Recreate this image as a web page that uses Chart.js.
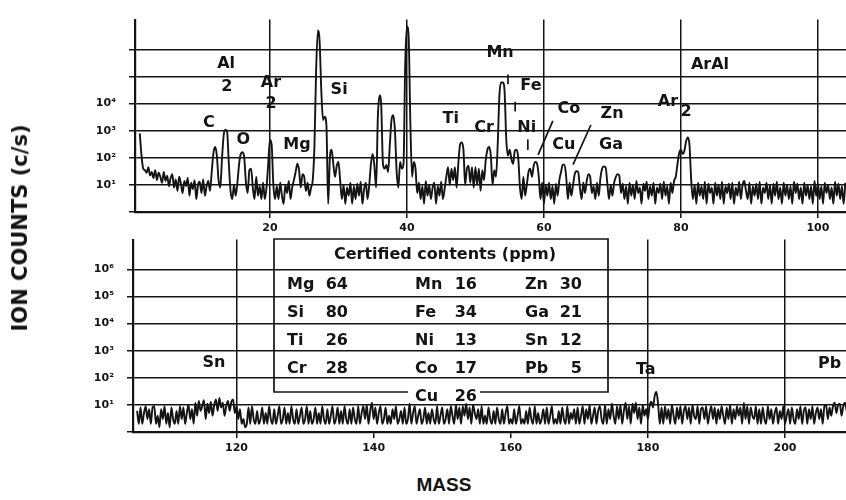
<!DOCTYPE html>
<html><head><meta charset="utf-8">
<script src="https://cdn.jsdelivr.net/npm/chart.js@4.4.0/dist/chart.umd.min.js"></script>
<style>
body{margin:0;background:#fff;width:846px;height:500px;position:relative;overflow:hidden}
canvas{position:absolute;left:0}
#cTop{top:0}#cBot{top:220px}
#ytitle{position:absolute;left:20px;top:228px;transform:translate(-50%,-50%) rotate(-90deg);font:bold 21px "DejaVu Sans",sans-serif;white-space:nowrap;color:#141414}
#xtitle{position:absolute;left:444px;top:485px;transform:translate(-50%,-50%);font:bold 19px "Liberation Sans",Arial,sans-serif;color:#141414}
</style></head><body>
<canvas id="cTop" width="846" height="240"></canvas>
<canvas id="cBot" width="846" height="240"></canvas>
<div id="ytitle">ION COUNTS (c/s)</div>
<div id="xtitle">MASS</div>
<script>
const INK='#141414';
const MASS_STEP=0.25;

// upper trace, mass 1 .. 104, one value every 0.25 u
const topStart=1;
const topCounts=[
 800,120,40,35, 28,45,22,30, 18,35,15,28, 20,12,30,14, 22,9,18,25,            // 1-5
 8,16,6,20, 11,5,14,9, 18,4,12,7, 15,3,10,13, 5,16,4,9,                        // 6-10
 14,6,30,150, 250,120,15,8, 90,700,1100,900, 60,6,3,10, 4,12,60,140,           // 11-15
 160,100,12,5, 35,40,8,3, 20,4,9,3, 12,3,8,60, 470,300,10,3,                   // 16-20
 9,3,12,4, 2,10,5,14, 3,8,15,30, 60,35,8,25, 20,6,12,4,                        // 21-25
 8,15,300,2e5, 5e6,2e6,3e4,2500, 3300,1500,2,100, 200,60,20,50, 70,15,3,10,    // 26-30
 2,8,4,12, 2,9,3,11, 4,13,2,7, 12,3,10,60, 140,50,8,3000,                      // 31-35
 2e4,8000,60,40, 55,30,300,2500, 3700,1000,30,8, 70,40,60,3e5, 7e6,3e6,2000,20,// 36-40
 70,40,5,12, 3,9,2,14, 4,10,3,8, 12,2,9,4, 13,3,7,20,                          // 41-45
 45,10,40,15, 45,8,60,300, 370,200,10,40, 50,12,45,8, 45,10,40,6,              // 46-50
 35,15,80,200, 250,120,10,35, 20,300,2e4,6e4, 6e4,3e4,500,120, 200,90,60,180,  // 51-55
 200,100,8,3, 20,4,10,30, 40,20,50,70, 60,20,3,12, 2,10,4,12,                  // 56-60
 3,9,2,11, 4,15,30,56, 56,20,3,12, 4,10,25,32, 30,8,3,12,                      // 61-65
 5,14,25,20, 5,9,3,12, 4,18,40,48, 45,12,3,10, 4,12,20,25,                     // 66-70
 22,5,11,3, 9,2,12,4, 10,3,14,5, 8,2,11,6, 13,3,9,4,                           // 71-75
 12,2,8,5, 11,3,13,4, 9,2,12,5, 14,20,60,150, 200,140,180,400,                 // 76-80
 560,300,15,3, 10,2,12,4, 9,3,13,2, 11,5,8,2, 12,4,10,3,                       // 81-85
 13,2,9,5, 11,3,12,2, 8,4,13,3, 10,14,6,3, 12,2,9,4,                           // 86-90
 11,3,13,2, 8,5,12,3, 10,2,11,4, 13,3,8,2, 12,4,10,3,                          // 91-95
 9,2,13,5, 11,3,8,2, 12,4,10,3, 9,2,14,4, 11,3,9,2,                            // 96-100
 12,5,10,3, 8,2,13,4, 11,3,9,2, 12                                             // 101-104
];

// lower trace, mass 105.5 .. 209
const botStart=105.5;
const botCounts=[
 6,2,                                                                          // 105.5
 8,2,5,9, 3,7,2,8, 9,2,4,1.5, 7,3,9,2, 5,1.5,8,3,                              // 106-110
 2,6,2,9, 3,8,2,5, 10,3,7,2, 12,4,14,6, 9,15,3,11,                             // 111-115
 5,13,4,10, 16,6,18,8, 12,4,9,14, 6,13,16,5, 9,3,7,2,                          // 116-120
 3,1.5,2,8, 2,9,3,2, 6,2,3,8, 2,5,2,9, 3,2,7,2,                                // 121-125
 4,9,2,3, 8,2,5,2, 9,3,2,7, 2,4,8,2, 3,9,2,6,                                  // 126-130
 2,3,8,2, 5,2,9,3, 2,7,2,4, 9,2,3,8, 2,6,2,9,                                  // 131-135
 3,2,7,2, 8,3,2,9, 2,5,9,3, 10,2,6,12, 3,8,2,5,                                // 136-140
 9,2,3,8, 2,4,2,7, 3,9,2,3, 6,2,8,2, 3,11,2,5,                                 // 141-145
 9,2,4,7, 2,3,8,2, 5,2,7,3, 2,9,2,4, 8,2,3,7,                                  // 146-150
 2,9,4,2, 10,3,8,2, 9,4,11,3, 8,2,10,5, 3,7,2,9,                               // 151-155
 2,4,2,8, 3,2,6,2, 8,3,2,7, 2,5,9,2, 3,2,7,2,                                  // 156-160
 4,9,2,3, 2,6,2,8, 3,2,9,2, 5,2,3,7, 2,8,2,4,                                  // 161-165
 9,2,3,2, 6,2,8,3, 2,9,2,5, 3,7,2,8, 2,4,9,2,                                  // 166-170
 7,3,10,2, 4,8,2,6, 9,3,2,10, 2,7,3,11, 4,2,9,3,                               // 171-175
 10,2,6,12, 3,9,2,11, 5,12,3,8, 2,10,4,7, 3,9,13,8,                            // 176-180
 22,30,10,2, 8,2,9,3, 7,2,10,4, 2,8,3,9, 2,6,9,3,                              // 181-185
 8,2,10,4, 3,9,2,7, 8,3,9,2, 5,9,3,8, 2,7,3,9,                                 // 186-190
 4,2,8,3, 10,2,7,3, 9,4,8,2, 12,3,9,2, 8,4,3,9,                                // 191-195
 2,7,2,8, 3,2,9,3, 7,2,5,8, 2,6,3,9, 2,4,7,2,                                  // 196-200
 8,3,2,7, 3,9,2,6, 8,2,7,3, 9,2,5,8, 3,7,2,9,                                  // 201-205
 10,3,8,4, 9,12,5,10, 11,4,9,12, 6                                             // 206-209
];

const topTicks=[20,40,60,80,100];
const botTicks=[120,140,160,180,200];
const botGridTicks=[120,180,200];
const decades=[1,10,100,1e3,1e4,1e5,1e6];
const topDecadeLabels=['','10¹','10²','10³','10⁴','',''];
const botDecadeLabels=['','10¹','10²','10³','10⁴','10⁵','10⁶'];

// peak labels: text, mass, log10(counts)
const topNoteText=['Al','2','Ar','2','Si','C','O','Mg','Mn','Fe','Ti','Cr','Ni','Co','Cu','Zn','Ga','ArAl','Ar','2'];
const topNoteMass=[13.6,13.7,20.15,20.15,30.1,11.1,16.1,23.95,53.6,58.1,46.4,51.25,57.5,63.65,62.9,69.95,69.8,84.25,78.1,80.75];
const topNoteExp=[5.46,4.61,4.75,4.0,4.5,3.29,2.68,2.46,5.86,4.64,3.43,3.11,3.11,3.79,2.46,3.61,2.46,5.43,4.07,3.71];
const topStrokes=[[54.75,4.71,54.75,5.07],[55.8,3.71,55.8,4.07],[57.65,2.29,57.65,2.68],[61.3,3.36,59.15,2.11],[66.85,3.21,64.25,1.75]];
const botNoteText=['Sn','Ta','Pb'];
const botNoteMass=[116.7,179.7,206.5];
const botNoteExp=[2.57,2.29,2.5];

const certElements=['Mg','Si','Ti','Cr','Mn','Fe','Ni','Co','Zn','Ga','Sn','Pb','Cu'];
const certPpm=[64,80,26,28,16,34,13,17,30,21,12,5,26];

function trace(start,counts){return counts.map((c,i)=>({x:start+i*MASS_STEP,y:c}));}

const LABEL_FONT='bold 16px "DejaVu Sans"';

const topNotes={id:'topNotes',afterDatasetsDraw(ch){
  const {ctx,scales:{x,y}}=ch;
  ctx.save();ctx.font=LABEL_FONT;ctx.fillStyle=INK;ctx.textAlign='center';ctx.textBaseline='middle';
  topNoteText.forEach((t,i)=>ctx.fillText(t,x.getPixelForValue(topNoteMass[i]),y.getPixelForValue(10**topNoteExp[i])));
  ctx.strokeStyle=INK;ctx.lineWidth=1.7;
  topStrokes.forEach(s=>{ctx.beginPath();ctx.moveTo(x.getPixelForValue(s[0]),y.getPixelForValue(10**s[1]));ctx.lineTo(x.getPixelForValue(s[2]),y.getPixelForValue(10**s[3]));ctx.stroke();});
  ctx.restore();
}};

const botNotes={id:'botNotes',afterDatasetsDraw(ch){
  const {ctx,scales:{x,y}}=ch;
  ctx.save();ctx.font=LABEL_FONT;ctx.fillStyle=INK;ctx.textAlign='center';ctx.textBaseline='middle';
  botNoteText.forEach((t,i)=>ctx.fillText(t,x.getPixelForValue(botNoteMass[i]),y.getPixelForValue(10**botNoteExp[i])));
  // certified contents box (canvas starts at page y=220)
  const L=274,R=608,T=19,B=172;
  ctx.strokeStyle=INK;ctx.lineWidth=1.7;
  ctx.beginPath();ctx.moveTo(408,B);ctx.lineTo(L,B);ctx.lineTo(L,T);ctx.lineTo(R,T);ctx.lineTo(R,B);ctx.lineTo(480,B);ctx.stroke();
  ctx.textBaseline='alphabetic';
  ctx.fillText('Certified contents (ppm)',445,39);
  const colL=[287,415,525],colR=[348,477,582],rowB=[69,97,125,153,181];
  certElements.forEach((el,i)=>{
    const col=i<12?Math.floor(i/4):1,row=i<12?i%4:4;
    ctx.textAlign='left';ctx.fillText(el,colL[col],rowB[row]);
    ctx.textAlign='right';ctx.fillText(String(certPpm[i]),colR[col],rowB[row]);
  });
  ctx.restore();
}};

function makePanel(id,cfg){
  return new Chart(document.getElementById(id),{
    type:'line',
    data:{datasets:[{data:trace(cfg.start,cfg.counts),borderColor:INK,borderWidth:1.9,pointRadius:0,cubicInterpolationMode:'monotone',fill:false}]},
    options:{responsive:false,animation:false,devicePixelRatio:1,
      layout:{padding:{top:cfg.padTop,left:0,right:0,bottom:0}},
      plugins:{legend:{display:false},tooltip:{enabled:false}},
      scales:{
        x:{type:'linear',min:cfg.xmin,max:cfg.xmax,
          afterBuildTicks:s=>{s.ticks=cfg.xticks.map(v=>({value:v}));},
          afterFit:s=>{s.height=28;},
          ticks:{font:{family:'DejaVu Sans',weight:'bold',size:11},color:INK,padding:4,maxRotation:0,autoSkip:false},
          grid:{color:c=>cfg.xgrid.includes(c.tick&&c.tick.value)?INK:'rgba(0,0,0,0)',tickColor:INK,lineWidth:1.5,tickLength:6},
          border:{color:INK,width:2.2}},
        y:{type:'logarithmic',min:1,max:1.26e7,
          afterBuildTicks:s=>{s.ticks=decades.map(v=>({value:v}));},
          afterFit:s=>{s.width=cfg.axisLeft;},
          ticks:{callback:(v,i)=>cfg.ylabels[i],font:{family:'DejaVu Sans',weight:'bold',size:11},color:INK,padding:13,autoSkip:false},
          grid:{color:INK,lineWidth:1.5,tickLength:6},
          border:{color:INK,width:2.2}}
      }},
    plugins:[cfg.notes]
  });
}

makePanel('cTop',{start:topStart,counts:topCounts,xmin:0.3,xmax:104.1,xticks:topTicks,xgrid:topTicks,ylabels:topDecadeLabels,axisLeft:135,padTop:13,notes:topNotes});
makePanel('cBot',{start:botStart,counts:botCounts,xmin:104.9,xmax:208.9,xticks:botTicks,xgrid:botGridTicks,ylabels:botDecadeLabels,axisLeft:133,padTop:15,notes:botNotes});
</script>
</body></html>
